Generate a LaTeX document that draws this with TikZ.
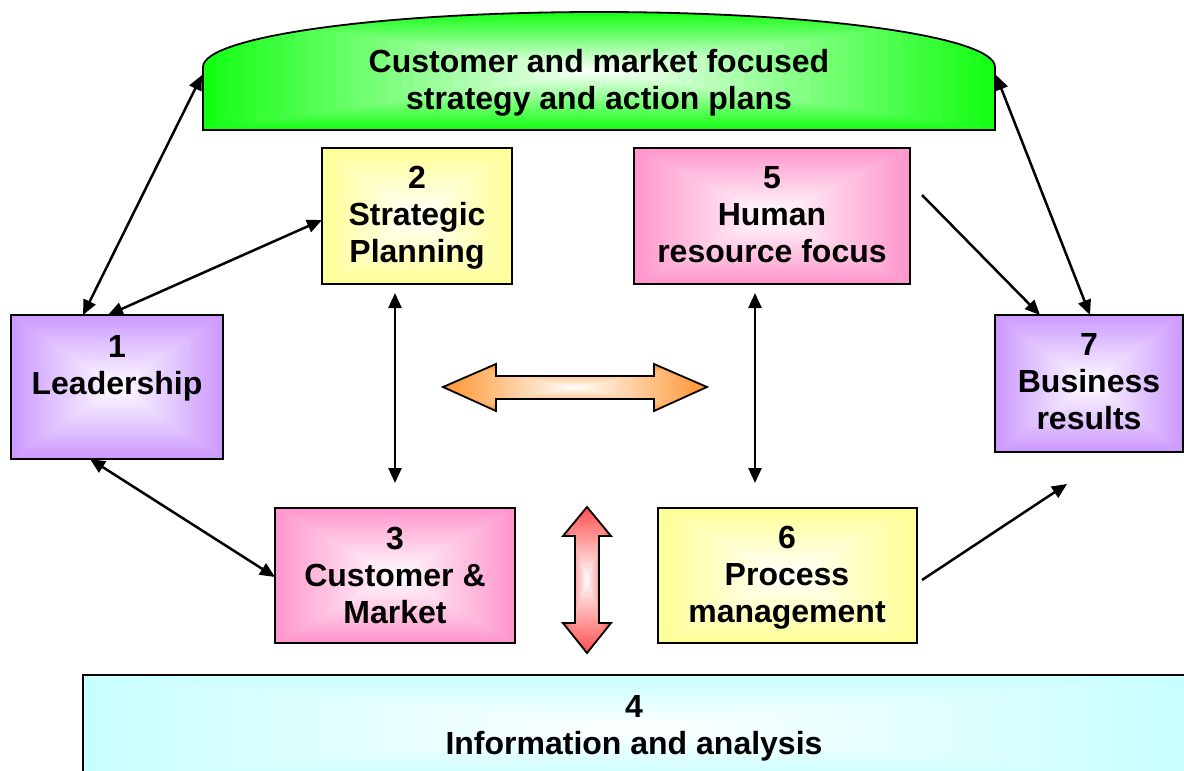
\documentclass[tikz,border=0pt]{standalone}
\usepackage{fontspec}
\setmainfont{Liberation Sans}
\usetikzlibrary{calc,arrows.meta}
\definecolor{cgreen}{RGB}{20,255,20}
\definecolor{cyel}{RGB}{255,255,150}
\definecolor{cpink}{RGB}{255,150,204}
\definecolor{cpurp}{RGB}{204,153,255}
\definecolor{ccyan}{RGB}{200,255,255}
\definecolor{corange}{RGB}{255,150,50}
\definecolor{cred}{RGB}{255,80,80}
\newcommand{\gradfill}[1]{%
  \foreach \i in {0,...,29}{%
    \pgfmathtruncatemacro{\pc}{100-\i*100/30}%
    \pgfmathsetmacro{\fr}{\i/60}%
    \fill[#1!\pc!white] ($(path picture bounding box.south west)!\fr!(path picture bounding box.north east)$) rectangle ($(path picture bounding box.north east)!\fr!(path picture bounding box.south west)$);}}
\tikzset{
  gbox/.style={draw=black, line width=1.8pt, inner sep=0pt, outer sep=0pt, anchor=north west, path picture={\gradfill{#1}}},
  blk/.style={draw=black, line width=1.8pt, line join=miter, path picture={\gradfill{#1}}},
  lbl/.style={align=center, font=\fontsize{32}{37}\selectfont\bfseries, inner sep=0pt},
  con/.style={line width=2.5pt, {Triangle[length=15pt,width=13pt]}-{Triangle[length=15pt,width=13pt]}},
  con1/.style={line width=2.5pt, -{Triangle[length=15pt,width=13pt]}}
}
\begin{document}
\begin{tikzpicture}[x=1pt,y=-1pt]
\useasboundingbox (0,0) rectangle (1184,771);
% banner
\draw[blk=cgreen] (203,130) -- (203,67) arc[start angle=180, end angle=360, x radius=396, y radius=55] -- (995,130) -- cycle;
\node[lbl] (tb) at (599,83) {Customer and market focused\\strategy and action plans};
\coordinate (banL) at (202,75);
\coordinate (banR) at (996,75);
% boxes
\node[gbox=cpurp, minimum width=212pt, minimum height=144pt] (b1) at (11,315) {};
\node[gbox=cyel,  minimum width=190pt, minimum height=136pt] (b2) at (322,148) {};
\node[gbox=cpink, minimum width=240pt, minimum height=135pt] (b3) at (275,508) {};
\node[gbox=ccyan, minimum width=1103pt, minimum height=106pt] (b4) at (83,675) {};
\node[gbox=cpink, minimum width=276pt, minimum height=136pt] (b5) at (634,148) {};
\node[gbox=cyel,  minimum width=259pt, minimum height=135pt] (b6) at (658,508) {};
\node[gbox=cpurp, minimum width=188pt, minimum height=137pt] (b7) at (995,315) {};
% labels
\node[lbl] (t1) at (117,368) {1\\Leadership};
\node[lbl] (t2) at (417,218) {2\\Strategic\\Planning};
\node[lbl] (t3) at (395,575) {3\\Customer \&\\Market};
\node[lbl] (t4) at (634,728) {4\\Information and analysis};
\node[lbl] (t5) at (772,215) {5\\Human\\resource focus};
\node[lbl] (t6) at (787,578) {6\\Process\\management};
\node[lbl] (t7) at (1089,382) {7\\Business\\results};
% block arrows
\draw[blk=corange] (443,387) -- (496,364) -- (496,376) -- (654,376) -- (654,364) -- (707,387) -- (654,411) -- (654,399) -- (496,399) -- (496,411) -- cycle;
\draw[blk=cred] (587,507) -- (611,536) -- (599,536) -- (599,623) -- (611,623) -- (587,653) -- (563,623) -- (575,623) -- (575,536) -- (563,536) -- cycle;
% connectors
\coordinate (e6) at (1067,484);
\draw[con] (banL) -- ([xshift=72pt]b1.north west);
\draw[con] ([yshift=-4pt]b2.west) -- ([xshift=97pt]b1.north west);
\draw[con] ([xshift=79pt]b1.south west) -- ([yshift=-1.5pt]b3.west);
\draw[con] ($(b3.north |- b2.south)+(0,9)$) -- ($(b3.north)+(0,-25)$);
\draw[con] ($(b5.south)+(-17,9)$) -- ($(b5.south)+(-17,199)$);
\draw[con1] ([xshift=12pt,yshift=21pt]b5.east) -- ([xshift=-49pt]b7.north);
\draw[con] (banR) -- ([xshift=1pt]b7.north);
\draw[con1] ([xshift=5pt,yshift=-4.5pt]b6.east) -- (e6);
\end{tikzpicture}
\end{document}
